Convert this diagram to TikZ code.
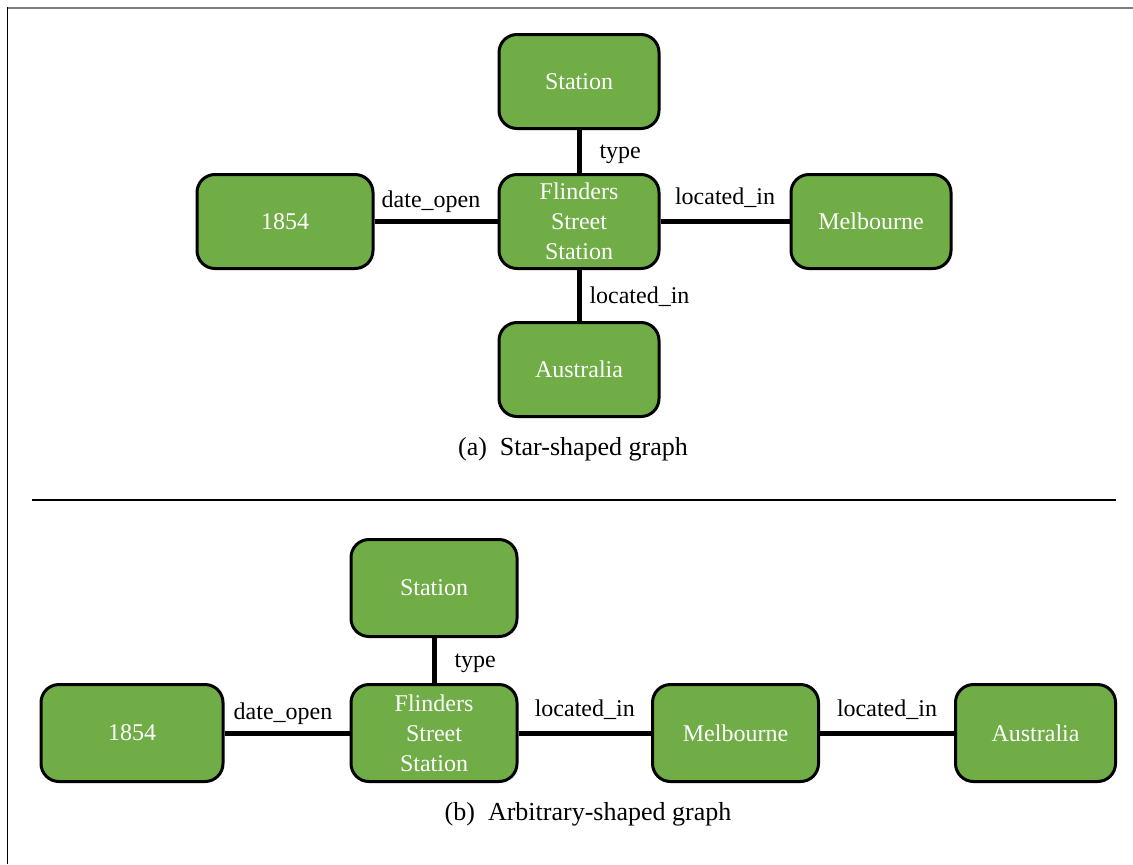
\documentclass[tikz,border=0pt]{standalone}
\usepackage{fontspec}
\setmainfont{Liberation Serif}
\definecolor{nodegreen}{HTML}{70AD47}
\definecolor{framegray}{HTML}{7F7F7F}
\begin{document}
\begin{tikzpicture}[x=0.5pt,y=-0.5pt,
  entity/.style={draw=black, line width=1.5pt, fill=nodegreen, rounded corners=9pt,
    text=white, font=\fontsize{12}{15}\selectfont, align=center,
    minimum height=47pt, inner sep=0pt},
  rel/.style={line width=2.5pt, black},
  hlabel/.style={midway, anchor=base, yshift=7.5pt, inner sep=0pt,
    font=\fontsize{12}{15}\selectfont},
  vlabel/.style={midway, anchor=west, inner sep=0pt,
    font=\fontsize{12}{15}\selectfont},
  caption/.style={font=\fontsize{13}{16}\selectfont, inner sep=0pt}]
\useasboundingbox (0,0) rectangle (1133,864);

% page frame and separator
\draw[framegray, line width=1pt] (7,7.5) -- (1133,7.5);
\draw[black, line width=0.75pt] (7.5,7) -- (7.5,864);
\draw[black, line width=0.75pt] (32,500) -- (1116,500);

% (a) star-shaped graph
\node[entity, minimum width=80pt] (aSt)  at (579,81.5)  {Station};
\node[entity, minimum width=80pt] (aFSS) at (579,221.5) {Flinders\\Street\\Station};
\node[entity, minimum width=88pt] (aY)   at (285,221.5) {1854};
\node[entity, minimum width=80pt] (aMel) at (871,221.5) {Melbourne};
\node[entity, minimum width=80pt] (aAus) at (579,369.5) {Australia};

\draw[rel] (aSt) -- node[vlabel, xshift=9pt, yshift=-1.5pt] {type} (aFSS);
\draw[rel] (aY) -- node[hlabel, xshift=-2.5pt, yshift=-0.5pt] {date\_open} (aFSS);
\draw[rel] (aFSS) -- node[hlabel, yshift=1pt] {located\_in} (aMel);
\draw[rel] (aFSS) -- node[vlabel, xshift=4pt, yshift=-0.5pt] {located\_in} (aAus);

\node[caption] (capA) at (573,449) {(a)\enspace Star-shaped graph};

% (b) arbitrary-shaped graph
\node[entity, minimum width=83pt, minimum height=48.5pt] (bSt)  at (434,588)  {Station};
\node[entity, minimum width=83pt, minimum height=48.5pt] (bFSS) at (434,733)  {Flinders\\Street\\Station};
\node[entity, minimum width=91pt, minimum height=48.5pt] (bY)   at (132,733)  {1854};
\node[entity, minimum width=83pt, minimum height=48.5pt] (bMel) at (735.5,733) {Melbourne};
\node[entity, minimum width=80pt, minimum height=48.5pt] (bAus) at (1035.5,733) {Australia};

\draw[rel] (bSt) -- node[vlabel, xshift=9pt, yshift=-1.5pt] {type} (bFSS);
\draw[rel] (bY) -- node[hlabel, xshift=-2pt, yshift=-0.5pt] {date\_open} (bFSS);
\draw[rel] (bFSS) -- node[hlabel, yshift=1pt] {located\_in} (bMel);
\draw[rel] (bMel) -- node[hlabel, yshift=1pt] {located\_in} (bAus);

\node[caption] (capB) at (588,814) {(b)\enspace Arbitrary-shaped graph};
\end{tikzpicture}
\end{document}
